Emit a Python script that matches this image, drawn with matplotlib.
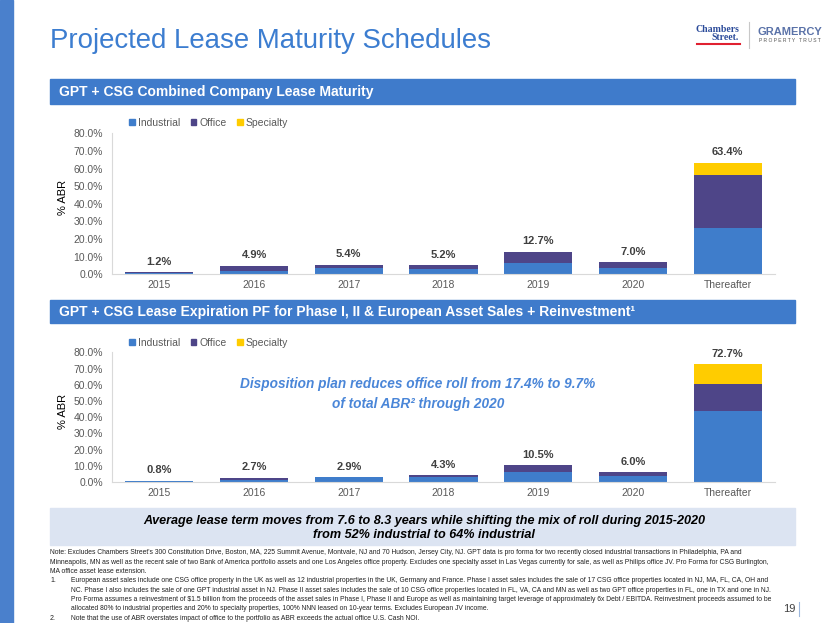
import numpy as np
import matplotlib
matplotlib.use('Agg')
import matplotlib.pyplot as plt
from matplotlib.patches import Rectangle, Patch
from matplotlib import font_manager

W, H = 830, 623

categories = ['2015', '2016', '2017', '2018', '2019', '2020', 'Thereafter']
series = ['Industrial', 'Office', 'Specialty']

# combined company lease maturity (% ABR)
industrial_1 = [0.8, 1.8, 3.4, 3.1, 6.4, 3.5, 26.1]
office_1 = [0.4, 3.1, 2.0, 2.1, 6.3, 3.5, 30.0]
specialty_1 = [0.0, 0.0, 0.0, 0.0, 0.0, 0.0, 7.3]
totals_1 = [1.2, 4.9, 5.4, 5.2, 12.7, 7.0, 63.4]

# PF for phase I, II & european asset sales + reinvestment
industrial_2 = [0.6, 1.5, 2.8, 2.9, 6.2, 3.5, 43.8]
office_2 = [0.2, 1.2, 0.1, 1.4, 4.3, 2.5, 16.8]
specialty_2 = [0.0, 0.0, 0.0, 0.0, 0.0, 0.0, 12.1]
totals_2 = [0.8, 2.7, 2.9, 4.3, 10.5, 6.0, 72.7]

yticks = [0, 10, 20, 30, 40, 50, 60, 70, 80]

colors = ['#3F7DCB', '#4E4588', '#FFCC00']
blue = '#3F7BCB'
grey = '#595959'

names = {f.name for f in font_manager.fontManager.ttflist}
narrow = 'Liberation Sans Narrow' if 'Liberation Sans Narrow' in names else 'Liberation Sans'
sans = 'Liberation Sans'
plt.rcParams['font.family'] = [sans, 'DejaVu Sans']
# no narrow face -> shrink sizes so widths still match
shrink = 1.0 if narrow != sans else 0.83


def fx(x):
    return x / W


def fy(y):
    return 1 - y / H


def box(fig, x0, y0, x1, y1, color):
    fig.patches.append(Rectangle((fx(x0), fy(y1)), fx(x1 - x0), (y1 - y0) / H,
                                 transform=fig.transFigure, color=color, zorder=0))


def draw_chart(fig, top, bottom, ind, off, spec, tot, legend_y):
    ax = fig.add_axes([fx(112), fy(bottom), fx(775 - 112), (bottom - top) / H])
    x = np.arange(len(categories))
    base = np.zeros(len(categories))
    handles = []
    for vals, c, name in zip([ind, off, spec], colors, series):
        vals = np.array(vals)
        ax.bar(x, vals, 0.72, bottom=base, color=c, zorder=2)
        base = base + vals
        handles.append(Patch(color=c, label=name))
    for xi, t in zip(x, tot):
        ax.annotate('%.1f%%' % t, (xi, t), xytext=(0, 7.5), textcoords='offset points',
                    ha='center', va='center', fontsize=8, fontweight='bold', color='#404040')
    ax.set_xlim(-0.5, 6.5)
    ax.set_ylim(0, 80)
    ax.set_yticks(yticks)
    ax.set_yticklabels(['%.1f%%' % v for v in yticks])
    ax.set_xticks(x)
    ax.set_xticklabels(categories)
    ax.tick_params(axis='y', length=0, pad=6.5, labelsize=7.5, labelcolor=grey)
    ax.tick_params(axis='x', length=0, pad=4, labelsize=7.5, labelcolor=grey)
    for s in ['top', 'right']:
        ax.spines[s].set_visible(False)
    ax.spines['left'].set_color('#D9D9D9')
    ax.spines['bottom'].set_color('#D9D9D9')
    ax.patch.set_alpha(0)
    fig.legend(handles=handles, loc='center left', bbox_to_anchor=(fx(129), fy(legend_y)),
               ncol=3, frameon=False, fontsize=7.5, labelcolor=grey,
               handlelength=0.55, handleheight=0.55, handletextpad=0.3,
               columnspacing=1.0, borderaxespad=0, borderpad=0)
    fig.text(fx(63), fy((top + bottom) / 2 - 6), '% ABR', rotation=90,
             ha='center', va='center', fontsize=8, color='black')
    return ax


fig = plt.figure(figsize=(8.3, 6.23), dpi=100)

# left stripe and title
box(fig, 0, 0, 13, H, '#4A80CC')
fig.text(fx(50), fy(41), 'Projected Lease Maturity Schedules', fontsize=24 * shrink,
         family=narrow, color='#3C7DD0', va='center', ha='left')

# logo
fig.text(fx(739), fy(30), 'Chambers', family='Liberation Serif', fontsize=7,
         color='#2B4B9A', ha='right', va='center', fontweight='bold')
fig.text(fx(739), fy(38), 'Street.', family='Liberation Serif', fontsize=7,
         color='#2B4B9A', ha='right', va='center', fontweight='bold')
fig.add_artist(plt.Line2D([fx(697), fx(740)], [fy(44), fy(44)], color='#E02030', lw=1.5))
fig.add_artist(plt.Line2D([fx(749), fx(749)], [fy(22), fy(48)], color='#C8C8C8', lw=0.8))
fig.text(fx(790), fy(32), 'GRAMERCY', fontsize=8, fontweight='bold', color='#5A72A8',
         ha='center', va='center')
fig.text(fx(790), fy(40), 'P R O P E R T Y   T R U S T', fontsize=3.6, color='#555555',
         ha='center', va='center')

# header bars
box(fig, 50, 79, 795, 104, blue)
fig.text(fx(59), fy(92), 'GPT + CSG Combined Company Lease Maturity', fontsize=10,
         fontweight='bold', color='white', va='center')
box(fig, 50, 300, 795, 323, blue)
fig.text(fx(59), fy(312), 'GPT + CSG Lease Expiration PF for Phase I, II & European Asset Sales + Reinvestment\u00b9',
         fontsize=10, fontweight='bold', color='white', va='center')

draw_chart(fig, 133.3, 274.3, industrial_1, office_1, specialty_1, totals_1, 123)
draw_chart(fig, 352.3, 482, industrial_2, office_2, specialty_2, totals_2, 343)

fig.text(fx(418), fy(394), 'Disposition plan reduces office roll from 17.4% to 9.7%\nof total ABR\u00b2 through 2020',
         fontsize=9.8, fontweight='bold', style='italic', color='#4A86D8',
         ha='center', va='center', linespacing=1.5)

# bottom box
box(fig, 50, 508, 795, 545, '#DCE4F2')
fig.text(fx(424), fy(528), 'Average lease term moves from 7.6 to 8.3 years while shifting the mix of roll during 2015-2020\nfrom 52% industrial to 64% industrial',
         fontsize=10.9 * shrink, family=narrow, fontweight='bold', style='italic', color='black',
         ha='center', va='center', linespacing=1.3)

# footnotes
notes = [
    (50, None, "Note: Excludes Chambers Street's 300 Constitution Drive, Boston, MA, 225 Summit Avenue, Montvale, NJ and 70 Hudson, Jersey City, NJ. GPT data is pro forma for two recently closed industrial transactions in Philadelphia, PA and"),
    (50, None, "Minneapolis, MN as well as the recent sale of two Bank of America portfolio assets and one Los Angeles office property. Excludes one specialty asset in Las Vegas currently for sale, as well as Philips office JV. Pro Forma for CSG Burlington,"),
    (50, None, "MA office asset lease extension."),
    (71, '1.', "European asset sales include one CSG office property in the UK as well as 12 industrial properties in the UK, Germany and France. Phase I asset sales includes the sale of 17 CSG office properties located in NJ, MA, FL, CA, OH and"),
    (71, None, "NC. Phase I also includes the sale of one GPT industrial asset in NJ. Phase II asset sales includes the sale of 10 CSG office properties located in FL, VA, CA and MN as well as two GPT office properties in FL, one in TX and one in NJ."),
    (71, None, "Pro Forma assumes a reinvestment of \\$1.5 billion from the proceeds of the asset sales in Phase I, Phase II and Europe as well as maintaining target leverage of approximately 6x Debt / EBITDA. Reinvestment proceeds assumed to be"),
    (71, None, "allocated 80% to industrial properties and 20% to specialty properties, 100% NNN leased on 10-year terms. Excludes European JV income."),
    (71, '2.', "Note that the use of ABR overstates impact of office to the portfolio as ABR exceeds the actual office U.S. Cash NOI."),
]
for i, (x0, num, txt) in enumerate(notes):
    y = 553 + i * 9.3
    if num:
        fig.text(fx(50), fy(y), num, fontsize=5.0, family=narrow, color='#222222', va='center')
    fig.text(fx(x0), fy(y), txt, fontsize=5.85 * shrink, family=narrow, color='#222222', va='center')

fig.text(fx(795), fy(609), '19', fontsize=8, color='#404040', ha='right', va='center')
fig.add_artist(plt.Line2D([fx(799), fx(799)], [fy(602), fy(616)], color='#9DB7DD', lw=0.8))

fig.savefig('out.png', dpi=100)
